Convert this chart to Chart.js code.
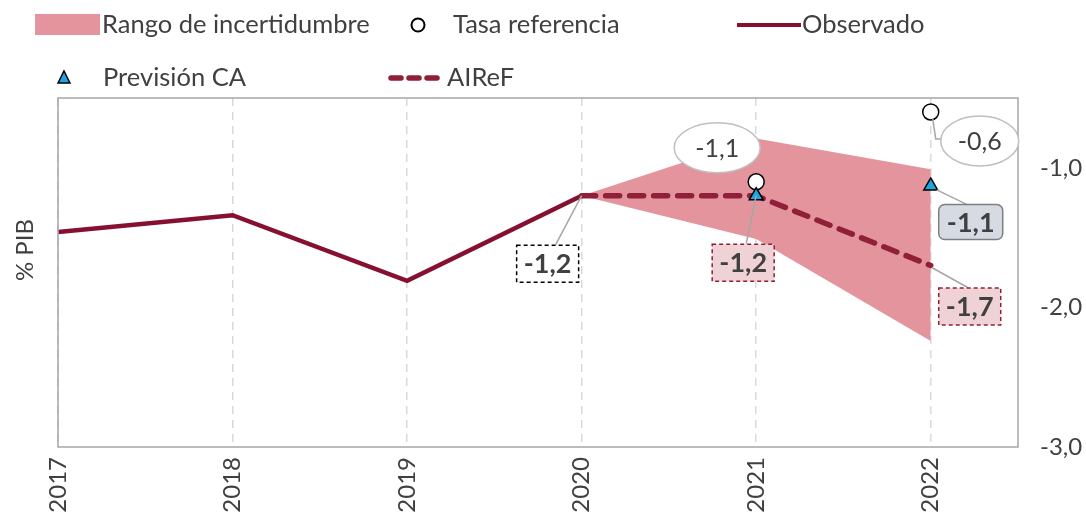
<!DOCTYPE html>
<html><head><meta charset="utf-8">
<script src="https://cdn.jsdelivr.net/npm/chart.js@4.4.0/dist/chart.umd.min.js"></script>
<style>html,body{margin:0;padding:0;background:#fff}#wrap{width:1086px;height:520px}</style>
</head><body><div id="wrap"><canvas id="c" width="1086" height="520"></canvas></div>
<script>
const years = [2017, 2018, 2019, 2020, 2021, 2022];
const observado = [-1.46, -1.34, -1.81, -1.2, null, null];
const airef = [null, null, null, -1.2, -1.2, -1.7];
const rangoSup = [null, null, null, -1.2, -0.79, -1.01];
const rangoInf = [null, null, null, -1.2, -1.51, -2.24];
const tasaRef = [null, null, null, null, -1.1, -0.6];
const prevCA = [null, null, null, null, -1.2, -1.13];
const yTicks = [-1, -2, -3];

const FONT = 'Lato, "Noto Sans", sans-serif';
const TXT = '#404040';
const RED = '#86102f';
const RED2 = '#8f2038';
const PINK = '#e3949d';

const pts = arr => years.map((x, i) => ({x: x, y: arr[i]})).filter(p => p.y !== null);
const fmt = v => v.toFixed(1).replace('.', ',');

// callout labels: which series/year, look, offsets from the point
const callouts = [
  {data: observado, year: 2020, look: 'obs', dx: -34, dy: 68, w: 62, h: 37, leader: [[0, 0], [-26, 49]]},
  {data: tasaRef, year: 2021, look: 'tasa', dx: -39, dy: -34, w: 86, h: 50, leader: null},
  {data: airef, year: 2021, look: 'airef', dx: -13, dy: 67, w: 62, h: 37, leader: [[0, 0], [-10, 48]]},
  {data: tasaRef, year: 2022, look: 'tasa', dx: 49, dy: 29, w: 78, h: 50, leader: [[2, 7], [5, 27], [12, 27]]},
  {data: prevCA, year: 2022, look: 'ca', dx: 40, dy: 36, w: 64, h: 35, leader: [[6, 4], [37, 19]]},
  {data: airef, year: 2022, look: 'airef', dx: 39, dy: 41, w: 62, h: 37, leader: [[1, 2], [37, 22]]}
];

function rrect(ctx, x, y, w, h, r) {
  ctx.beginPath();
  ctx.moveTo(x + r, y);
  ctx.arcTo(x + w, y, x + w, y + h, r);
  ctx.arcTo(x + w, y + h, x, y + h, r);
  ctx.arcTo(x, y + h, x, y, r);
  ctx.arcTo(x, y, x + w, y, r);
  ctx.closePath();
}

const decor = {
  id: 'decor',
  afterDatasetsDraw(chart) {
    const ctx = chart.ctx, a = chart.chartArea;
    const xs = chart.scales.x, ys = chart.scales.y;
    ctx.save();
    // frame
    ctx.strokeStyle = '#a6a6a6';
    ctx.lineWidth = 1.5;
    ctx.strokeRect(a.left, a.top, a.right - a.left, a.bottom - a.top);

    callouts.forEach(c => {
      const v = c.data[years.indexOf(c.year)];
      const px = xs.getPixelForValue(c.year), py = ys.getPixelForValue(v);
      const cx = px + c.dx, cy = py + c.dy;
      if (c.leader) {
        ctx.strokeStyle = '#a6a6a6';
        ctx.lineWidth = 1.5;
        ctx.setLineDash([]);
        ctx.beginPath();
        c.leader.forEach((p, i) => i ? ctx.lineTo(px + p[0], py + p[1]) : ctx.moveTo(px + p[0], py + p[1]));
        ctx.stroke();
      }
      const x0 = cx - c.w / 2, y0 = cy - c.h / 2;
      if (c.look === 'tasa') {
        ctx.beginPath();
        ctx.ellipse(cx, cy, c.w / 2, c.h / 2, 0, 0, Math.PI * 2);
        ctx.fillStyle = '#fff'; ctx.fill();
        ctx.strokeStyle = '#bfbfbf'; ctx.lineWidth = 1.5; ctx.stroke();
        ctx.font = '25px ' + FONT;
      } else {
        if (c.look === 'ca') {
          rrect(ctx, x0, y0, c.w, c.h, 6);
          ctx.fillStyle = '#d5dae3'; ctx.fill();
          ctx.strokeStyle = '#7f7f7f'; ctx.lineWidth = 1.5; ctx.setLineDash([]); ctx.stroke();
        } else {
          ctx.fillStyle = c.look === 'airef' ? '#efd2d5' : '#fff';
          ctx.fillRect(x0, y0, c.w, c.h);
          ctx.strokeStyle = c.look === 'airef' ? '#8f2038' : '#000';
          ctx.lineWidth = 1.5; ctx.setLineDash([4, 3]);
          ctx.strokeRect(x0, y0, c.w, c.h);
          ctx.setLineDash([]);
        }
        ctx.font = 'bold 27px ' + FONT;
      }
      ctx.fillStyle = TXT;
      ctx.textAlign = 'center';
      ctx.textBaseline = 'middle';
      ctx.fillText(fmt(v), cx, cy + 1);
    });

    // y title
    ctx.save();
    ctx.translate(25, 250);
    ctx.rotate(-Math.PI / 2);
    ctx.font = '24px ' + FONT;
    ctx.fillStyle = TXT;
    ctx.textAlign = 'center';
    ctx.textBaseline = 'middle';
    ctx.fillText('% PIB', 0, 0);
    ctx.restore();

    // legend
    ctx.font = '25.5px ' + FONT;
    ctx.textAlign = 'left';
    ctx.textBaseline = 'middle';
    ctx.fillStyle = PINK;
    ctx.fillRect(35, 14, 65, 21);
    ctx.fillStyle = TXT;
    ctx.fillText('Rango de incertidumbre', 102, 25);

    ctx.beginPath();
    ctx.arc(418, 25, 6.5, 0, Math.PI * 2);
    ctx.fillStyle = '#fff'; ctx.fill();
    ctx.strokeStyle = '#000'; ctx.lineWidth = 2; ctx.stroke();
    ctx.fillStyle = TXT;
    ctx.fillText('Tasa referencia', 453, 25);

    ctx.strokeStyle = RED; ctx.lineWidth = 4;
    ctx.beginPath(); ctx.moveTo(737, 25); ctx.lineTo(801, 25); ctx.stroke();
    ctx.fillText('Observado', 802, 25);

    ctx.beginPath();
    ctx.moveTo(64, 71); ctx.lineTo(70, 83); ctx.lineTo(58, 83); ctx.closePath();
    ctx.fillStyle = '#1ba6e0'; ctx.fill();
    ctx.strokeStyle = '#000'; ctx.lineWidth = 1.5; ctx.stroke();
    ctx.fillStyle = TXT;
    ctx.fillText('Previsión CA', 103, 78);

    ctx.strokeStyle = RED2; ctx.lineWidth = 5.5; ctx.lineCap = 'round';
    ctx.setLineDash([10, 8]);
    ctx.beginPath(); ctx.moveTo(391, 78); ctx.lineTo(444, 78); ctx.stroke();
    ctx.setLineDash([]);
    ctx.fillText('AIReF', 447, 78);
    ctx.restore();
  }
};

new Chart(document.getElementById('c'), {
  type: 'line',
  data: {
    datasets: [
      {label: 'Previsión CA', data: pts(prevCA), showLine: false, order: 0,
        pointStyle: 'triangle', pointRadius: 8, backgroundColor: '#1ba6e0', borderColor: '#000', borderWidth: 1.5},
      {label: 'Tasa referencia', data: pts(tasaRef), showLine: false, order: 1,
        pointStyle: 'circle', pointRadius: 8, backgroundColor: '#fff', borderColor: '#000', borderWidth: 1.5},
      {label: 'AIReF', data: pts(airef), order: 2, borderColor: RED2, borderWidth: 5.5,
        borderDash: [14, 10], borderCapStyle: 'round', pointRadius: 0, fill: false},
      {label: 'Observado', data: pts(observado), order: 3, borderColor: RED, borderWidth: 4.5,
        pointRadius: 0, fill: false},
      {label: 'Rango sup', data: pts(rangoSup), order: 4, borderWidth: 0, borderColor: 'rgba(0,0,0,0)',
        pointRadius: 0, backgroundColor: PINK, fill: '+1'},
      {label: 'Rango inf', data: pts(rangoInf), order: 5, borderWidth: 0, borderColor: 'rgba(0,0,0,0)',
        pointRadius: 0, fill: false}
    ]
  },
  options: {
    responsive: false,
    animation: false,
    layout: {padding: {top: 98, left: 58, right: 0, bottom: 0}},
    plugins: {legend: {display: false}, tooltip: {enabled: false}},
    scales: {
      x: {
        type: 'linear', min: 2017, max: 2022.5,
        afterBuildTicks: ax => { ax.ticks = years.map(v => ({value: v})); },
        afterFit: ax => { ax.height = 73; },
        grid: {color: '#d9d9d9', lineWidth: 1.5, drawTicks: false},
        border: {display: false, dash: [8, 6]},
        ticks: {minRotation: 90, maxRotation: 90, padding: 10, color: TXT,
          font: {family: FONT, size: 24}, callback: v => String(v)}
      },
      y: {
        position: 'right', min: -3, max: -0.5,
        afterBuildTicks: ax => { ax.ticks = yTicks.map(v => ({value: v})); },
        afterFit: ax => { ax.width = 68; },
        grid: {display: false, drawTicks: false},
        border: {display: false},
        ticks: {padding: 22, color: TXT, font: {family: FONT, size: 24}, callback: v => fmt(v)}
      }
    }
  },
  plugins: [decor]
});
</script>
</body></html>
